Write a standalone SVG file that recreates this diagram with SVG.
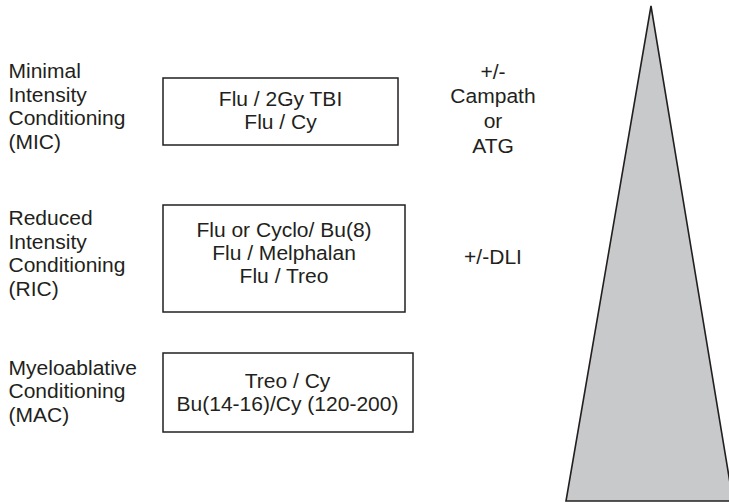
<svg xmlns="http://www.w3.org/2000/svg" width="729" height="503" viewBox="0 0 729 503">
<style>
text{font-family:"Liberation Sans",Arial,sans-serif;font-size:19.3px;fill:#231f20}
.c{text-anchor:middle}
.box{fill:#fff;stroke:#231f20;stroke-width:1.5}
.tri{fill:#c8c9cb;stroke:#231f20;stroke-width:1.6;stroke-linejoin:miter}
</style>
<rect width="729" height="503" fill="#fff"/>
<g id="mic-label"><text transform="translate(8.5,78) scale(1.09,1)"><tspan x="0" y="0">Minimal</tspan><tspan x="0" y="23.7">Intensity</tspan><tspan x="0" y="47.4">Conditioning</tspan><tspan x="0" y="71.1">(MIC)</tspan></text></g>
<g id="ric-label"><text transform="translate(8.5,225) scale(1.09,1)"><tspan x="0" y="0">Reduced</tspan><tspan x="0" y="23.7">Intensity</tspan><tspan x="0" y="47.4">Conditioning</tspan><tspan x="0" y="71.1">(RIC)</tspan></text></g>
<g id="mac-label"><text transform="translate(8.5,375) scale(1.09,1)"><tspan x="0" y="0">Myeloablative</tspan><tspan x="0" y="23.5">Conditioning</tspan><tspan x="0" y="47">(MAC)</tspan></text></g>
<g id="mic-box"><rect class="box" x="163" y="78" width="235" height="67"/><text class="c" transform="translate(280.5,105.5) scale(1.09,1)"><tspan x="0" y="0">Flu / 2Gy TBI</tspan><tspan x="0" y="23.5">Flu / Cy</tspan></text></g>
<g id="ric-box"><rect class="box" x="163" y="205" width="242" height="107"/><text class="c" transform="translate(284,236.5) scale(1.09,1)"><tspan x="0" y="0">Flu or Cyclo/ Bu(8)</tspan><tspan x="0" y="23.5">Flu / Melphalan</tspan><tspan x="0" y="47">Flu / Treo</tspan></text></g>
<g id="mac-box"><rect class="box" x="163" y="353" width="250" height="79"/><text class="c" transform="translate(287.5,387.5) scale(1.09,1)"><tspan x="0" y="0">Treo / Cy</tspan><tspan x="0" y="23.5">Bu(14-16)/Cy (120-200)</tspan></text></g>
<g id="serotherapy"><text class="c" transform="translate(493,78.5) scale(1.09,1)"><tspan x="0" y="0">+/-</tspan><tspan x="0" y="24.7">Campath</tspan><tspan x="0" y="49.4">or</tspan><tspan x="0" y="74.1">ATG</tspan></text></g>
<g id="dli"><text class="c" transform="translate(493,263.5) scale(1.09,1)">+/-DLI</text></g>
<g id="intensity-wedge"><polygon class="tri" points="651,6 566,501 733,501"/></g>
<g id="connectors"></g>
</svg>
